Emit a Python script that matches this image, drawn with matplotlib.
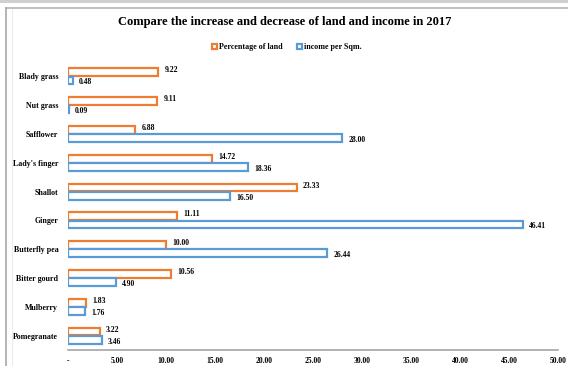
import matplotlib
matplotlib.use("Agg")
import matplotlib.pyplot as plt
from matplotlib.patches import Patch, Rectangle
from matplotlib.lines import Line2D
import numpy as np

categories = ["Blady grass", "Nut grass", "Safflower", "Lady's finger", "Shallot",
              "Ginger", "Butterfly pea", "Bitter gourd", "Mulberry", "Pomegranate"]
land_pct = [9.22, 9.11, 6.88, 14.72, 23.33, 11.11, 10.00, 10.56, 1.83, 3.22]
income_sqm = [0.48, 0.09, 28.00, 18.36, 16.50, 46.41, 26.44, 4.90, 1.76, 3.46]
x_ticks = [0, 5, 10, 15, 20, 25, 30, 35, 40, 45, 50]
x_tick_labels = ["-", "5.00", "10.00", "15.00", "20.00", "25.00",
                 "30.00", "35.00", "40.00", "45.00", "50.00"]

ORANGE = "#ED7D31"
BLUE = "#5B9BD5"
SERIF = ["Liberation Serif", "DejaVu Serif"]

W, H = 568, 366
fig = plt.figure(figsize=(W / 100, H / 100), dpi=100)
fig.patch.set_facecolor("white")

# window frame around the chart area
fig.add_artist(Rectangle((0, 1 - 3 / H), 1, 3 / H, transform=fig.transFigure,
                         facecolor="#cfcfcf", edgecolor="none"))
fig.add_artist(Line2D([6 / W, 1], [1 - 8 / H, 1 - 8 / H], transform=fig.transFigure,
                      color="#b5b5b5", lw=1.2))
fig.add_artist(Line2D([6 / W, 6 / W], [0, 1 - 8 / H], transform=fig.transFigure,
                      color="#a8a8a8", lw=1.2))
fig.add_artist(Line2D([12 / W, 12 / W], [0, 1 - 9 / H], transform=fig.transFigure,
                      color="#ececec", lw=0.8))

ax = fig.add_axes([68 / W, 16 / H, 490 / W, 288 / H])
y = np.arange(len(categories))
bh = 0.27
off = 0.145
ax.barh(y - off, land_pct, height=bh, facecolor="white", edgecolor=ORANGE, linewidth=1.6)
ax.barh(y + off, income_sqm, height=bh, facecolor="white", edgecolor=BLUE, linewidth=1.6)

for yi, v in zip(y, land_pct):
    ax.annotate(f"{v:.2f}", (v, yi - off - 0.06), xytext=(4.5, 0), textcoords="offset points",
                va="center", ha="left", fontsize=5.5, fontweight="bold", family=SERIF)
for yi, v in zip(y, income_sqm):
    ax.annotate(f"{v:.2f}", (v, yi + off + 0.06), xytext=(4.5, 0), textcoords="offset points",
                va="center", ha="left", fontsize=5.5, fontweight="bold", family=SERIF)

ax.set_xlim(0, 50)
ax.set_ylim(len(categories) - 0.5, -0.5)
ax.set_yticks(y)
ax.set_yticklabels(categories, fontsize=5.7, fontweight="bold", family=SERIF)
ax.set_xticks(x_ticks)
ax.set_xticklabels(x_tick_labels, fontsize=5.5, fontweight="bold", family=SERIF)
ax.tick_params(axis="y", length=0, pad=7)
ax.tick_params(axis="x", length=0, pad=5)
for s in ["top", "right", "left"]:
    ax.spines[s].set_visible(False)
ax.spines["bottom"].set_color("#a6a6a6")
ax.spines["bottom"].set_linewidth(1.2)

fig.text(285 / W, 1 - 22 / H, "Compare the increase and decrease of land and income in 2017",
         ha="center", va="center", fontsize=9, fontweight="bold", family=SERIF)

handles = [Patch(facecolor="white", edgecolor=ORANGE, linewidth=1.6, label="Percentage of land"),
           Patch(facecolor="white", edgecolor=BLUE, linewidth=1.6, label="income per Sqm.")]
fig.legend(handles=handles, loc="center", bbox_to_anchor=(287 / W, 1 - 47 / H),
           ncol=2, frameon=False, handlelength=0.6, handleheight=0.6, handletextpad=0.3,
           columnspacing=1.8, prop={"family": SERIF, "size": 5.8, "weight": "bold"})

fig.savefig("out.png", dpi=100, facecolor="white")
